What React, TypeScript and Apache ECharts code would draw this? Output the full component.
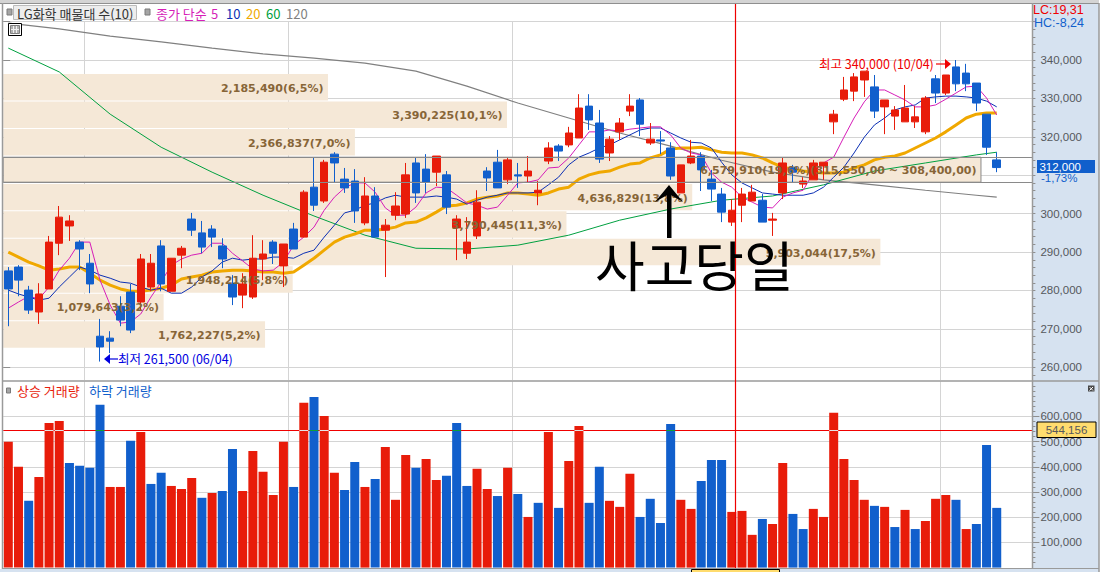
import React, { useEffect, useRef } from "react";
import * as echarts from "echarts";

const RED = "#e81c0a";
const BLUE = "#115fcc";
const NARROW = '"Liberation Sans",sans-serif';
const KR = '"Noto Sans CJK KR","Noto Sans",sans-serif';

// [open, close, low, high]
const candles = [
  [285100,280400,270700,286100],[286100,282700,278500,286600],[280100,274900,273900,281200],[274400,279100,271300,281900],
  [280400,292600,280400,294200],[292300,299100,289200,302000],[296800,298100,292900,299600],[292600,290800,285300,293100],
  [287100,281700,279300,289500],[268100,265300,261500,272600],[267600,266800,263700,269400],[275900,272300,270700,278500],
  [279600,269700,268900,281700],[277000,288200,274900,289500],[280900,287100,279800,289500],[291600,281700,279800,293100],
  [279800,288400,279800,288400],[289200,291000,285800,291600],[298600,295700,294200,300200],[295000,291300,289700,298100],
  [296000,293900,291300,297000],[291600,288200,285800,293600],[281900,278300,276200,284000],[278800,281700,275400,284500],
  [278300,288400,277800,294400],[288200,289500,282700,293100],[292600,289700,286900,293100],[286400,292100,280900,292100],
  [296000,290800,290800,297600],[293900,305600,293900,306100],[306900,302200,300700,314700],[303300,313400,302800,314000],
  [315500,313200,308200,316000],[309000,306700,305400,311900],[308500,300700,297600,311600],[297600,304600,297000,309500],
  [304600,293900,293900,306900],[295700,297000,283500,298600],[299600,302000,298300,305600],[299900,310100,298900,313200],
  [313200,305400,302800,314500],[311600,308200,305400,315500],[310800,315000,307200,315000],[310100,301700,299900,311100],
  [296300,298600,287900,299600],[289700,292600,288200,299100],[294200,303000,293400,306100],[311100,309300,305900,312100],
  [313400,306700,306700,316600],[308800,314000,307700,314500],[310100,309800,306700,313200],[309800,311100,308200,315000],
  [305400,306100,302200,308500],[313700,317100,312900,318600],[317600,316300,313700,318100],[317900,321000,317300,322600],
  [319700,327500,319700,331100],[328000,324400,321800,331100],[323600,314200,313200,327000],[315800,319400,313700,320200],
  [321300,323600,319200,324900],[326700,328000,325400,331100],[329600,323300,320200,330100],[318400,319400,317900,323600],
  [319200,318900,315500,321500],[317100,309800,308800,318600],[305400,312700,305400,312700],[313200,315000,312900,319200],
  [315000,311400,305900,316000],[309000,306400,303300,311400],[305100,300400,297800,306700],[297800,300900,296800,303800],
  [302200,305100,297800,306700],[303300,305600,303300,307500],[303500,297800,297800,305100],[298300,298600,294200,300200],
  [305400,313200,303800,314500],[312100,310800,308000,312700],[307700,308500,306700,309500],[308800,313200,308800,314000],
  [312400,313400,308800,313400],[323900,325900,320700,327000],[329800,332200,329300,335600],[331900,335600,329300,336600],
  [334800,337100,330400,337100],[333000,326700,324900,336100],[327800,329600,320700,329600],[325400,327000,321800,328000],
  [323900,327500,323900,333500],[323900,325200,322300,328000],[321300,330100,320700,330600],[335100,331400,328800,336100],
  [331400,336100,330900,336100],[338200,333800,331900,340000],[336600,333800,331900,339000],[334000,328800,326700,334000],
  [325900,317300,315300,325900],[314000,312000,310800,316000],
];

const ma5 = [275400,277000,278500,277800,280900,285300,288400,292600,292600,282700,276200,271500,271800,273900,278300,282200,286600,288200,289200,289700,292300,292300,289700,287700,285600,285100,285300,287400,291800,293900,296500,300900,304300,306700,308000,308000,305600,301500,299600,299600,301700,305400,306900,306700,304800,302800,302200,301200,301700,304800,308000,308200,308800,311900,312100,314500,317900,321300,321300,321800,321500,322000,322300,322600,322600,320500,317100,315800,315300,310600,308200,306900,304300,303000,301700,301500,304300,305400,306100,310600,313200,314700,319900,324900,329100,332200,332200,330900,329600,327800,327800,328300,329800,331400,333000,333200,330100,325700];
const ma10 = [280100,279100,278300,277500,278000,280900,283500,286100,285300,284000,283200,282200,281900,280900,280100,280600,279300,279300,280900,283500,285100,287400,288400,287900,288200,288200,288700,288700,288400,289700,290500,293900,297000,300200,300900,302200,302800,304100,304800,304300,304300,304300,304600,304300,303800,302500,303500,304300,304800,305400,305400,305400,305600,307500,309500,312700,314700,315800,317100,317900,319200,320500,321800,322300,322300,321000,319700,318600,318400,317100,313400,310100,308000,306700,305400,305100,304800,304800,304800,305400,306900,309500,312100,315800,319900,323100,324900,327000,327800,328300,330100,330400,330600,330600,330400,330100,329300,327800];
const ma20 = [290000,288700,287400,286400,285300,285600,286100,286100,284500,282700,281400,280400,279800,279800,280100,280600,281400,283000,283500,284000,284800,285100,285300,285300,285100,284800,284800,284500,284800,286600,288400,290500,292600,293900,294700,295700,295700,296000,296500,297600,297800,298900,300400,302000,302200,302800,303800,304300,304600,305400,305400,305100,304800,305400,306400,306900,309000,310100,310800,311100,312100,312900,313200,314500,315300,316800,317100,317100,317300,316600,316000,315800,315800,315300,314500,313200,312100,311600,311100,310800,310600,310600,310800,311900,312700,314000,314700,315000,315800,317100,318400,319700,321300,323100,324900,325900,326200,326200];
// [candle index, value] read at the points where the curve was legible
const ma60 = [[0,343100],[5,336900],[10,325900],[15,317300],[20,310800],[25,304800],[30,299400],[35,294400],[40,291000],[45,290800],[50,291800],[55,294400],[60,298300],[65,301200],[70,303500],[75,304600],[80,307500],[85,311100],[90,313200],[95,315300],[97,316000]];
const ma120 = [[0,349600],[5,348100],[10,346200],[15,344700],[20,343100],[25,341600],[30,340500],[35,339200],[40,337100],[45,333200],[50,328800],[55,324900],[60,321000],[65,317600],[70,313900],[75,310800],[80,308800],[85,307500],[90,306100],[95,304800],[97,304300]];

const volumes = [499000,400000,265000,360000,574000,582000,415000,404000,396000,646000,320000,320000,503000,538000,332000,376000,324000,312000,356000,277000,296000,304000,471000,304000,463000,380000,288000,499000,320000,654000,677000,602000,376000,308000,419000,320000,352000,479000,269000,447000,396000,431000,348000,364000,574000,324000,392000,312000,284000,396000,292000,201000,257000,538000,237000,423000,562000,257000,400000,265000,241000,372000,201000,273000,177000,570000,269000,233000,344000,427000,427000,221000,225000,130000,193000,173000,415000,213000,153000,233000,201000,614000,431000,348000,269000,245000,241000,161000,229000,153000,185000,273000,288000,269000,153000,173000,487000,237000];
const volumeRising = [1,1,0,1,1,1,0,0,0,0,1,1,0,1,0,0,1,1,1,0,1,0,0,1,1,1,1,1,0,1,0,1,1,0,0,1,0,1,1,1,0,1,1,0,0,0,1,1,0,1,0,1,0,1,0,1,1,0,0,1,1,1,0,0,0,0,1,1,0,0,0,1,1,1,0,1,1,0,0,1,1,1,1,1,1,0,1,0,1,0,1,1,1,0,1,0,0,0];
const volumeLevel = 544156;

// 310,000 has a grid line but its label is covered by the last-price tag in the reference
const priceLabels = [260000,270000,280000,290000,300000,320000,330000,340000];
const priceGrid = [260000,270000,280000,290000,300000,310000,320000,330000,340000,350000];
const volumeLabels = [100000,200000,300000,400000,500000,600000];
const rangeLines = [314700, 308200];

const profileTop = 336350;
const profileStep = 7150;
const profileVolumes = [2185490,3390225,2366837,6579910,4636829,3790445,5903044,1948214,1079643,1762227];
const profilePercents = ["6,5","10,1","7,0","19,6","13,8","11,3","17,5","5,8","3,2","5,2"];
const highlightRange = "(315,550,00 ~ 308,400,00)";
const highlightBand = 3;

const monthStarts = [8, 28, 50, 92];
const categories = Array.from({ length: 101 }, (_, i) => String(i + 1));

const minorPriceTicks: number[] = [];
for (let v = 258000; v <= 350000; v += 2000) minorPriceTicks.push(v);
const minorVolumeTicks: number[] = [];
for (let v = 20000; v <= 720000; v += 20000) minorVolumeTicks.push(v);

function bandRange(i: number): [number, number] {
  if (i === highlightBand) return [rangeLines[0], rangeLines[1]];
  return [profileTop - i * profileStep, profileTop - (i + 1) * profileStep];
}

function text(x: number, y: number, t: string, fill: string, fontSize = 13, align = "left", fontFamily = KR, z = 60) {
  return { type: "text", x, y, z, silent: true, style: { text: t, fill, fontSize, fontFamily, align, verticalAlign: "middle" } };
}
function rect(x: number, y: number, w: number, h: number, fill: string, z = -5, stroke?: string) {
  return { type: "rect", z, silent: true, shape: { x, y, width: w, height: h }, style: stroke ? { fill, stroke, lineWidth: 1 } : { fill } };
}
function line(x1: number, y1: number, x2: number, y2: number, stroke: string, lineWidth = 1, z = 50) {
  return { type: "line", z, silent: true, shape: { x1, y1, x2, y2 }, style: { stroke, lineWidth } };
}

const gridLeft = 3.2;
const gridWidth = 1029.2;
const tickStyle = { color: "#8e8e8e", width: 1 };
const splitStyle = { color: "#d4d4d4", width: 1 };
const monthSplit = { show: true, interval: (i: number) => monthStarts.includes(i), lineStyle: splitStyle };

function buildOption() {
  const mkLine = (name: string, data: any[], color: string, width: number, extra: any = {}) => ({
    name, type: "line", data, xAxisIndex: 0, yAxisIndex: 0, showSymbol: false, symbol: "none", z: 3, silent: true,
    connectNulls: true, lineStyle: { color, width }, ...extra,
  });
  return {
    animation: false,
    backgroundColor: "#ffffff",
    grid: [
      { left: gridLeft, top: 21.6, width: gridWidth, height: 358.4 },
      { left: gridLeft, top: 381.5, width: gridWidth, height: 186.1 },
    ],
    xAxis: [
      { type: "category", gridIndex: 0, data: categories, axisLine: { show: false }, axisTick: { show: false }, axisLabel: { show: false }, splitLine: monthSplit },
      { type: "value", gridIndex: 0, show: false, min: 0, max: 6926000, splitLine: { show: false } },
      { type: "category", gridIndex: 1, data: categories, axisLine: { show: false }, axisTick: { show: false }, axisLabel: { show: false }, splitLine: monthSplit },
    ],
    yAxis: [
      {
        type: "value", gridIndex: 0, position: "right", min: 256700, max: 350000, scale: true,
        axisLine: { show: false },
        axisTick: { show: true, length: 7, lineStyle: tickStyle, customValues: priceGrid },
        axisLabel: { show: true, customValues: priceLabels, margin: 8, color: "#55585c", fontFamily: NARROW, fontSize: 11.5, formatter: (v: number) => v.toLocaleString("en-US") },
        splitLine: { show: true, lineStyle: splitStyle },
      },
      {
        type: "value", gridIndex: 0, position: "right", min: 256700, max: 350000, scale: true,
        axisLine: { show: false }, axisLabel: { show: false }, splitLine: { show: false },
        axisTick: { show: true, length: 3, lineStyle: tickStyle, customValues: minorPriceTicks },
      },
      {
        type: "value", gridIndex: 1, position: "right", min: 0, max: 738500,
        axisLine: { show: false },
        axisTick: { show: true, length: 7, lineStyle: tickStyle, customValues: volumeLabels },
        axisLabel: { show: true, customValues: volumeLabels, margin: 8, color: "#55585c", fontFamily: NARROW, fontSize: 11.5, formatter: (v: number) => v.toLocaleString("en-US") },
        splitLine: { show: true, lineStyle: splitStyle },
      },
      {
        type: "value", gridIndex: 1, position: "right", min: 0, max: 738500,
        axisLine: { show: false }, axisLabel: { show: false }, splitLine: { show: false },
        axisTick: { show: true, length: 3, lineStyle: tickStyle, customValues: minorVolumeTicks },
      },
    ],
    series: [
      {
        name: "매물대", type: "custom", xAxisIndex: 1, yAxisIndex: 0, z: 1, silent: true, clip: false,
        data: profileVolumes.map((v, i) => [v, bandRange(i)[0]]),
        renderItem: (params: any, api: any) => {
          const i = params.dataIndex;
          const [hi, lo] = bandRange(i);
          const p1 = api.coord([0, hi]);
          const p2 = api.coord([profileVolumes[i], lo]);
          const isBox = i === highlightBand;
          return {
            type: "rect",
            shape: { x: p1[0], y: p1[1], width: p2[0] - p1[0], height: p2[1] - p1[1] - (isBox ? 0 : 1) },
            style: isBox ? { fill: "#f5e8d7", stroke: "#8a8a8a", lineWidth: 1 } : { fill: "#f5e8d7" },
          };
        },
      },
      mkLine("120", ma120, "#808080", 1.2, {
        markLine: {
          silent: true, symbol: "none", label: { show: false }, animation: false,
          lineStyle: { color: "#8a8a8a", width: 1, type: "solid" },
          data: rangeLines.map((yAxis) => ({ yAxis })),
        },
      }),
      mkLine("60", ma60, "#00a040", 1),
      mkLine("20", ma20, "#f0a800", 3),
      mkLine("10", ma10, "#0b2fb4", 1),
      mkLine("5", ma5, "#d61db8", 1),
      {
        name: "캔들", type: "candlestick", xAxisIndex: 0, yAxisIndex: 0, z: 4, silent: true, barWidth: 8,
        data: candles,
        itemStyle: { color: RED, color0: BLUE, borderColor: RED, borderColor0: BLUE, borderColorDoji: RED, borderWidth: 1 },
      },
      {
        name: "매물대 라벨", type: "custom", xAxisIndex: 1, yAxisIndex: 0, z: 6, silent: true, clip: false,
        data: profileVolumes.map((v, i) => [v, bandRange(i)[0]]),
        renderItem: (params: any, api: any) => {
          const i = params.dataIndex;
          const [hi, lo] = bandRange(i);
          const p1 = api.coord([profileVolumes[i], hi]);
          const p2 = api.coord([profileVolumes[i], lo]);
          const label = `${profileVolumes[i].toLocaleString("en-US")}(${profilePercents[i]}%)${i === highlightBand ? highlightRange : ""}`;
          return {
            type: "text",
            x: p1[0] - 4.5, y: (p1[1] + p2[1]) / 2 + 0.5,
            style: { text: label, fill: "#876537", fontSize: 11, fontWeight: "bold", fontFamily: '"DejaVu Sans",sans-serif', align: "right", verticalAlign: "middle" },
          };
        },
      },
      {
        name: "상승 거래량", type: "bar", xAxisIndex: 2, yAxisIndex: 2, barWidth: 9, barGap: "-100%", silent: true, z: 2,
        itemStyle: { color: RED },
        data: volumes.map((v, i) => (volumeRising[i] ? v : null)),
        markLine: {
          silent: true, symbol: "none", label: { show: false }, animation: false,
          lineStyle: { color: "#f00000", width: 1.2, type: "solid" },
          data: [{ yAxis: volumeLevel }],
        },
      },
      {
        name: "하락 거래량", type: "bar", xAxisIndex: 2, yAxisIndex: 2, barWidth: 9, barGap: "-100%", silent: true, z: 2,
        itemStyle: { color: BLUE },
        data: volumes.map((v, i) => (volumeRising[i] ? null : v)),
      },
      {
        name: "기준선 교차", type: "custom", xAxisIndex: 2, yAxisIndex: 2, silent: true, z: 7,
        data: volumes.map((v, i) => [i, v]).filter((d) => d[1] > volumeLevel),
        renderItem: (_: any, api: any) => {
          const i = api.value(0);
          const c = api.coord([i, volumeLevel]);
          return { type: "rect", shape: { x: c[0] - 4.5, y: c[1] - 0.5, width: 9, height: 1 }, style: { fill: volumeRising[i] ? "#e6e6e6" : "#0e9f3a" } };
        },
      },
    ],
    graphic: [
      // frame
      rect(1033, 0, 66, 572, "#d6e2f0", -5),
      rect(0, 569, 1099, 3, "#d6e2f0", -5),
      rect(0, 0, 1099, 3, "#d4d4d4", -4),
      line(0, 3.5, 1099, 3.5, "#8f8f8f", 1, 40),
      line(2.5, 3, 2.5, 569, "#9a9a9a", 1.5, 40),
      line(1032.5, 3, 1032.5, 569, "#9a9a9a", 1.5, 40),
      line(1099, 3, 1099, 572, "#9a9a9a", 1.5, 40),
      line(2, 381, 1099, 381, "#9a9a9a", 1.5, 40),
      line(2, 568.5, 1099, 568.5, "#9a9a9a", 1, 40),
      // price legend
      rect(7, 9, 5, 6, "#a5a5a5", 60, "#7a7a7a"),
      rect(13.5, 5.5, 123, 14, "#ededed", 60, "#bbbbbb"),
      text(17, 13, "LG화학 매물대 수(10)", "#333333", 13),
      rect(145, 9, 5, 6, "#a5a5a5", 60, "#7a7a7a"),
      text(156, 13, "종가 단순", "#d61db8", 13),
      text(211, 13, "5", "#d61db8", 13),
      text(226, 13, "10", "#0b2fb4", 13),
      text(246, 13, "20", "#f0a800", 13),
      text(266, 13, "60", "#00a040", 13),
      text(286, 13, "120", "#808080", 13),
      // table icon
      rect(8.5, 23.5, 13, 12, "#ffffff", 60, "#000000"),
      rect(10.5, 25.5, 9, 8, "#b0b0b0", 61, "#808080"),
      line(13.5, 26, 13.5, 33, "#f0f0f0", 1, 62),
      line(16.5, 26, 16.5, 33, "#f0f0f0", 1, 62),
      line(11, 29.5, 19, 29.5, "#f0f0f0", 1, 62),
      // volume legend
      rect(6.5, 388, 4, 5, "#a5a5a5", 60, "#7a7a7a"),
      text(17, 390.5, "상승 거래량", RED, 13),
      text(89, 390.5, "하락 거래량", BLUE, 13),
      // annotations
      text(819, 63, "최고 340,000 (10/04)", "#f00000", 12.5),
      line(936, 64, 945, 64, "#f00000", 1.2),
      { type: "polygon", z: 60, silent: true, shape: { points: [[945, 59], [951, 64], [945, 69]] }, style: { fill: "#f00000" } },
      text(118, 358.5, "최저 261,500 (06/04)", "#0000e0", 12.5),
      line(109, 359, 118, 359, "#0000e0", 1.2),
      { type: "polygon", z: 60, silent: true, shape: { points: [[110, 354], [104, 359], [110, 364]] }, style: { fill: "#0000e0" } },
      // crosshair
      line(735.5, 4, 735.5, 568, "#ee0000", 1.2, 45),
      // right side read-outs
      text(1033, 10, "LC:19,31", "#f00000", 12.5, "left", NARROW),
      text(1034, 23, "HC:-8,24", BLUE, 12.5, "left", NARROW),
      rect(1037, 160, 58, 13, BLUE, 60),
      text(1081, 166.5, "312,000", "#ffffff", 11.5, "right", NARROW),
      text(1041, 178, "-1,73%", BLUE, 11.5, "left", NARROW),
      rect(1037, 422, 59, 15.5, "#ffdc6e", 60, "#000000"),
      text(1066.5, 430, "544,156", "#55585c", 11.5, "center", NARROW),
      rect(1088, 385.5, 6.5, 6, "#484848", 60),
      line(1089.5, 387, 1093, 390.5, "#ffffff", 1, 61),
      line(1093, 387, 1089.5, 390.5, "#ffffff", 1, 61),
      // date tag at the foot
      rect(691.5, 569.5, 88, 6, "#ffdc6e", 60, "#000000"),
      // event arrow and caption
      rect(667, 192, 4.5, 46, "#000000", 70),
      { type: "polygon", z: 70, silent: true, shape: { points: [[669, 185], [683, 202], [669, 194], [655, 202]] }, style: { fill: "#000000" } },
      { type: "text", x: 595, y: 263, z: 70, silent: true, style: { text: "사고당일", fill: "#000000", fontSize: 54, fontFamily: KR, verticalAlign: "middle" } },
    ],
  };
}

export default function App() {
  const ref = useRef<HTMLDivElement>(null);
  useEffect(() => {
    document.body.style.margin = "0";
    const chart = echarts.init(ref.current!, undefined, { renderer: "svg" });
    chart.setOption(buildOption() as any);
    return () => chart.dispose();
  }, []);
  return <div ref={ref} style={{ width: 1102, height: 572 }} />;
}
